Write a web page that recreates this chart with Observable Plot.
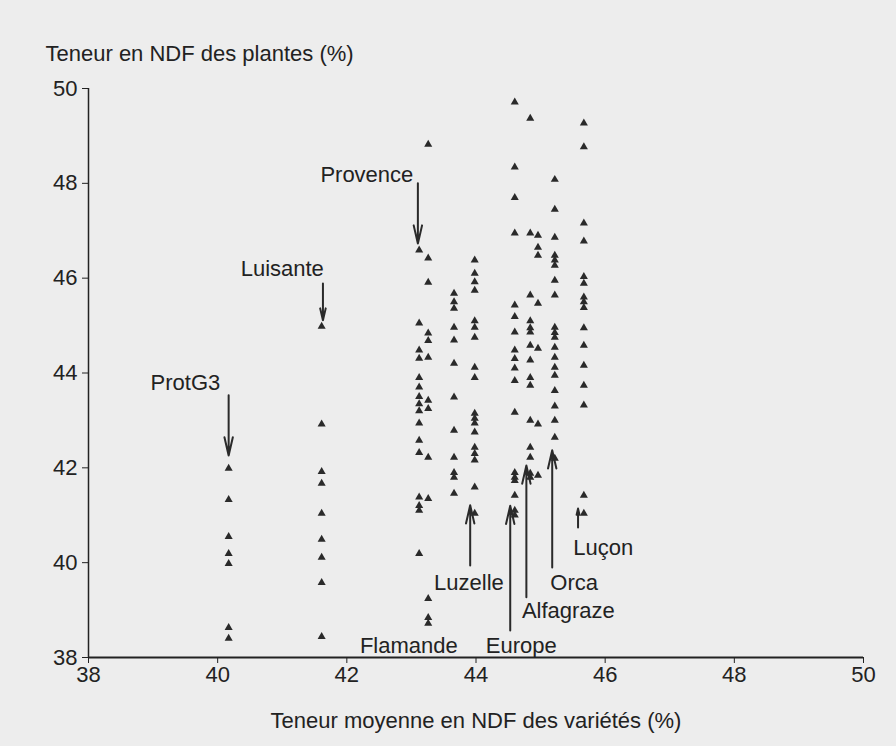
<!DOCTYPE html>
<html><head><meta charset="utf-8">
<script src="https://cdn.jsdelivr.net/npm/d3@7"></script>
<script src="https://cdn.jsdelivr.net/npm/@observablehq/plot@0.6"></script>
<style>
html,body{margin:0;padding:0;background:#ededed;}
#chart svg{display:block;}
</style></head><body><div id="chart"></div>
<script>
// Varieties (columns) and their mean NDF content (x)
const varieties = ["ProtG3","Luisante","Provence","Flamande","Variété 5","Luzelle","Europe","Alfagraze","Variété 9","Orca","Luçon"];
const meanNDF   = [40.17, 41.61, 43.12, 43.26, 43.66, 43.98, 44.60, 44.84, 44.96, 45.22, 45.67];

// Plant NDF content (y) for each variety
const ndfProtG3    = [41.99, 41.33, 40.55, 40.19, 39.98, 38.63, 38.40];
const ndfLuisante  = [44.98, 42.92, 41.92, 41.67, 41.04, 40.49, 40.11, 39.58, 38.44];
const ndfProvence  = [46.59, 45.05, 44.48, 44.31, 43.90, 43.70, 43.50, 43.35, 43.20, 42.94, 42.58, 42.32, 41.38, 41.20, 41.10, 40.19];
const ndfFlamande  = [48.82, 46.42, 45.91, 44.84, 44.68, 44.33, 43.42, 43.25, 42.22, 41.35, 39.24, 38.84, 38.72];
const ndfVar5      = [45.68, 45.50, 45.36, 44.96, 44.69, 44.20, 43.49, 42.79, 42.22, 41.90, 41.80, 41.46];
const ndfLuzelle   = [46.38, 46.10, 45.92, 45.74, 45.10, 44.96, 44.75, 44.12, 43.90, 43.15, 43.04, 42.94, 42.75, 42.43, 42.30, 42.16, 41.59, 41.04];
const ndfEurope    = [49.71, 48.34, 47.70, 46.95, 45.43, 45.19, 44.86, 44.48, 44.30, 44.10, 43.84, 43.17, 41.90, 41.80, 41.73, 41.42, 41.10, 41.00];
const ndfAlfagraze = [49.37, 46.95, 45.64, 45.10, 44.95, 44.86, 44.58, 44.27, 43.90, 43.74, 43.00, 42.43, 42.22, 41.88, 41.80];
const ndfVar9      = [46.90, 46.65, 46.48, 45.47, 44.52, 42.92, 41.84];
const ndfOrca      = [48.08, 47.45, 46.86, 46.48, 46.38, 46.27, 45.95, 45.64, 44.96, 44.85, 44.75, 44.54, 44.33, 44.12, 43.95, 43.63, 43.30, 43.00, 42.64, 42.20];
const ndfLucon     = [49.27, 48.77, 47.16, 46.78, 46.03, 45.89, 45.60, 45.50, 45.38, 44.95, 44.58, 44.16, 43.74, 43.32, 41.42, 41.04];
const plantNDF = [ndfProtG3, ndfLuisante, ndfProvence, ndfFlamande, ndfVar5, ndfLuzelle, ndfEurope, ndfAlfagraze, ndfVar9, ndfOrca, ndfLucon];

// Axis ticks and titles
const xTicks = [38, 40, 42, 44, 46, 48, 50];
const yTicks = [38, 40, 42, 44, 46, 48, 50];
const xTitle = "Teneur moyenne en NDF des variétés (%)";
const yTitle = "Teneur en NDF des plantes (%)";

// Annotations (data units)
const annText   = ["ProtG3","Luisante","Provence","Luzelle","Europe","Alfagraze","Orca","Luçon","Flamande"];
const annX      = [39.50, 41.00, 42.31, 43.89, 44.70, 45.43, 45.52, 45.97, 42.96];
const annY      = [43.78, 46.20, 48.17, 39.58, 38.25, 38.99, 39.58, 40.30, 38.25];
const arrowX    = [40.17, 41.63, 43.10, 43.91, 44.53, 44.78, 45.18, 45.58];
const arrowFrom = [43.53, 45.89, 48.00, 39.94, 38.57, 39.27, 39.90, 40.74];
const arrowTo   = [42.26, 45.11, 46.73, 41.21, 41.20, 42.05, 42.37, 41.14];

const points = varieties.flatMap((v, i) => plantNDF[i].map(y => ({variety: v, x: meanNDF[i], y})));
const arrows = arrowX.map((x, i) => ({x, y1: arrowFrom[i], y2: arrowTo[i]}));
const labels = annText.map((t, i) => ({t, x: annX[i], y: annY[i]}));

const ink = "#222";
const chart = Plot.plot({
  width: 896, height: 746,
  marginLeft: 88, marginRight: 33, marginTop: 88, marginBottom: 89,
  style: {background: "#ededed", fontFamily: "'Liberation Sans', Arial, sans-serif", fontSize: "22px", color: ink},
  x: {domain: [38, 50]},
  y: {domain: [38, 50]},
  marks: [
    Plot.axisX({ticks: xTicks, tickSize: 6, tickPadding: 3, fontSize: 22, label: xTitle, labelAnchor: "center", labelOffset: 70, labelArrow: "none"}),
    Plot.axisY({ticks: yTicks, tickSize: 6, tickPadding: 5, fontSize: 22, label: null}),
    Plot.text([yTitle], {frameAnchor: "top-left", dx: -43, dy: -43, textAnchor: "start", fontSize: 22, fill: ink}),
    Plot.ruleX([38], {stroke: ink, strokeWidth: 1.5}),
    Plot.ruleY([38], {stroke: ink, strokeWidth: 2}),
    Plot.dot(points, {x: "x", y: "y", symbol: "triangle", r: 3, fill: "#2a2a2a", stroke: "none"}),
    Plot.arrow(arrows, {x: "x", y1: "y1", y2: "y2", stroke: "#2a2a2a", strokeWidth: 2, headLength: 14, headAngle: 26}),
    Plot.text(labels, {x: "x", y: "y", text: "t", fontSize: 22, fill: ink, textAnchor: "middle"})
  ]
});
document.getElementById("chart").appendChild(chart);
</script>
</body></html>
